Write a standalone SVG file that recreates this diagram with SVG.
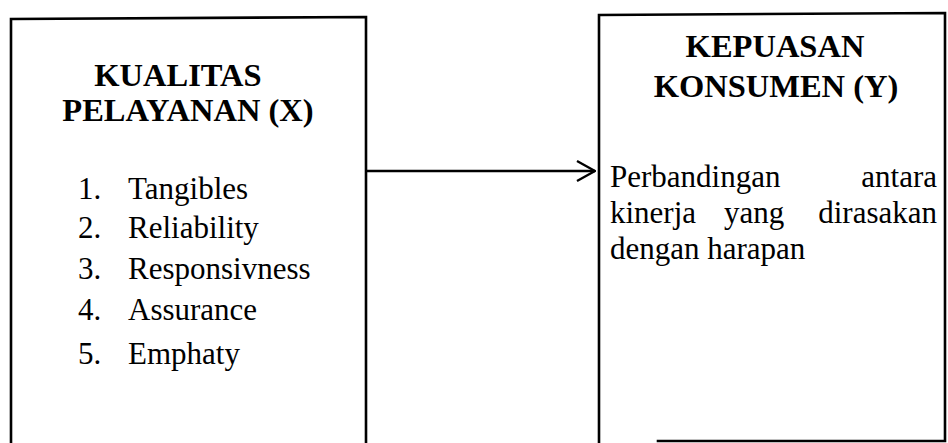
<svg xmlns="http://www.w3.org/2000/svg" width="948" height="443" viewBox="0 0 948 443">
<style>
.frame{fill:none;stroke:#000;stroke-width:2.6;stroke-linecap:square}
.hd{font-family:"Liberation Serif","Times New Roman",serif;font-weight:bold;font-size:32.5px;fill:#000}
.tx{font-family:"Liberation Serif","Times New Roman",serif;font-size:31px;fill:#000}
.conn{fill:none;stroke:#000;stroke-width:2.4}
</style>
<defs>
<marker id="open" viewBox="0 0 20 24" refX="19" refY="12" markerWidth="20" markerHeight="24" markerUnits="userSpaceOnUse" orient="auto">
<path d="M1,2 L19,12 L1,22" fill="none" stroke="#000" stroke-width="2.4"/>
</marker>
</defs>
<rect width="948" height="443" fill="#fff"/>
<g id="kualitas-pelayanan">
<path class="frame" d="M11,443 L11,19 L366,17 L366,443"/>
<text class="hd" x="178" y="86" text-anchor="middle">KUALITAS</text>
<text class="hd" x="188" y="121" text-anchor="middle">PELAYANAN (X)</text>
<text class="tx" y="199"><tspan x="78">1.</tspan><tspan x="128">Tangibles</tspan></text>
<text class="tx" y="238"><tspan x="78">2.</tspan><tspan x="128">Reliability</tspan></text>
<text class="tx" y="279"><tspan x="78">3.</tspan><tspan x="128">Responsivness</tspan></text>
<text class="tx" y="320"><tspan x="78">4.</tspan><tspan x="128">Assurance</tspan></text>
<text class="tx" y="364"><tspan x="78">5.</tspan><tspan x="128">Emphaty</tspan></text>
</g>
<g id="kepuasan-konsumen">
<path class="frame" d="M599,443 L599,15 L945,13 L945,441 L658,441"/>
<text class="hd" x="775" y="57" text-anchor="middle">KEPUASAN</text>
<text class="hd" x="776" y="97" text-anchor="middle">KONSUMEN (Y)</text>
<text class="tx" y="187"><tspan x="610">Perbandingan</tspan><tspan x="937" text-anchor="end">antara</tspan></text>
<text class="tx" y="223"><tspan x="610">kinerja</tspan><tspan x="724">yang</tspan><tspan x="937" text-anchor="end">dirasakan</tspan></text>
<text class="tx" y="259" x="610">dengan harapan</text>
</g>
<g id="connectors">
<line class="conn" x1="366" y1="171" x2="595" y2="171" marker-end="url(#open)"/>
</g>
</svg>
